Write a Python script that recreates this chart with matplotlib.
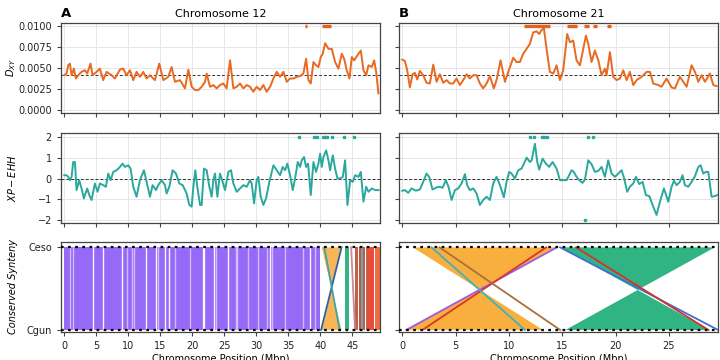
import matplotlib
matplotlib.use("Agg")
import matplotlib.pyplot as plt
from matplotlib.patches import Polygon

# ---------------- data ----------------
# Chromosome 12 (left) D_XY
dxy12_pos = [0.0, 0.36, 0.63, 0.89, 1.15, 1.51, 1.82, 2.19, 2.71, 3.23, 3.59, 4.11, 4.43, 5.05, 5.57, 6.09, 6.61,
             7.40, 7.92, 8.70, 9.22, 9.74, 10.26, 10.78, 11.30, 11.82, 12.34, 12.86, 13.39, 14.17, 14.84, 15.47,
             16.25, 16.77, 17.29, 18.07, 18.85, 19.38, 19.90, 20.42, 20.94, 21.46, 21.98, 22.24, 22.76, 23.28,
             23.80, 24.32, 24.84, 25.36, 25.89, 26.41, 26.93, 27.45, 27.97, 28.49, 29.01, 29.53, 30.05, 30.57,
             31.09, 31.61, 32.14, 32.66, 33.18, 33.70, 34.22, 34.74, 35.26, 35.78, 36.30, 36.82, 37.34, 37.76,
             38.13, 38.49, 38.91, 39.32, 39.69, 40.05, 40.36, 40.73, 41.25, 41.77, 42.29, 42.81, 43.33, 43.70,
             44.11, 44.53, 44.90, 45.26, 45.78, 46.30, 46.72, 47.14, 47.50, 48.02, 48.39, 48.70, 49.06]
dxy12_val = [0.00419, 0.00439, 0.00537, 0.00557, 0.00419, 0.00498, 0.00380, 0.00419, 0.00459, 0.00478, 0.00439,
             0.00557, 0.00419, 0.00459, 0.00498, 0.00361, 0.00459, 0.00419, 0.00380, 0.00486, 0.00498, 0.00419,
             0.00478, 0.00361, 0.00459, 0.00400, 0.00459, 0.00380, 0.00419, 0.00361, 0.00557, 0.00361, 0.00400,
             0.00517, 0.00341, 0.00361, 0.00263, 0.00486, 0.00282, 0.00243, 0.00243, 0.00282, 0.00341, 0.00439,
             0.00282, 0.00302, 0.00263, 0.00302, 0.00321, 0.00263, 0.00596, 0.00263, 0.00282, 0.00321, 0.00263,
             0.00302, 0.00282, 0.00223, 0.00282, 0.00243, 0.00302, 0.00223, 0.00282, 0.00380, 0.00459, 0.00400,
             0.00459, 0.00341, 0.00380, 0.00380, 0.00400, 0.00408, 0.00439, 0.00615, 0.00361, 0.00321, 0.00576,
             0.00537, 0.00517, 0.00635, 0.00674, 0.00800, 0.00733, 0.00733, 0.00576, 0.00498, 0.00674, 0.00615,
             0.00478, 0.00380, 0.00635, 0.00596, 0.00655, 0.00713, 0.00478, 0.00419, 0.00537, 0.00517, 0.00596,
             0.00459, 0.00204]

# Chromosome 21 (right) D_XY
dxy21_pos = [0.00, 0.25, 0.47, 0.72, 0.97, 1.19, 1.41, 1.66, 1.97, 2.28, 2.59, 2.91, 3.22, 3.53, 3.84, 4.16, 4.47,
             4.78, 5.09, 5.41, 5.72, 6.03, 6.34, 6.66, 6.97, 7.28, 7.59, 7.91, 8.22, 8.59, 8.84, 9.22, 9.63, 9.94,
             10.41, 10.72, 11.03, 11.34, 11.66, 11.97, 12.28, 12.59, 12.84, 13.06, 13.28, 13.53, 13.84, 14.16,
             14.47, 14.78, 15.09, 15.47, 15.72, 16.03, 16.34, 16.66, 16.91, 17.22, 17.44, 17.75, 18.06, 18.38,
             18.69, 19.00, 19.16, 19.47, 19.78, 20.09, 20.41, 20.72, 21.03, 21.34, 21.66, 21.97, 22.44, 22.91,
             23.22, 23.53, 24.00, 24.31, 24.78, 25.25, 25.56, 26.03, 26.34, 26.66, 27.13, 27.44, 27.75, 28.06,
             28.38, 28.84, 29.16, 29.47]
dxy21_val = [0.00604, 0.00588, 0.00478, 0.00274, 0.00431, 0.00447, 0.00368, 0.00470, 0.00419, 0.00329, 0.00321,
             0.00545, 0.00341, 0.00431, 0.00329, 0.00361, 0.00321, 0.00321, 0.00380, 0.00302, 0.00361, 0.00431,
             0.00380, 0.00419, 0.00419, 0.00321, 0.00263, 0.00321, 0.00408, 0.00263, 0.00361, 0.00596, 0.00341,
             0.00459, 0.00627, 0.00576, 0.00576, 0.00674, 0.00733, 0.00792, 0.00929, 0.00941, 0.00909, 0.00956,
             0.00980, 0.00733, 0.00459, 0.00439, 0.00537, 0.00361, 0.00478, 0.00909, 0.00811, 0.00831, 0.00596,
             0.00537, 0.00694, 0.00890, 0.00792, 0.00576, 0.00713, 0.00596, 0.00419, 0.00498, 0.00419, 0.00694,
             0.00400, 0.00361, 0.00380, 0.00478, 0.00361, 0.00459, 0.00302, 0.00361, 0.00400, 0.00459, 0.00459,
             0.00321, 0.00302, 0.00282, 0.00380, 0.00274, 0.00263, 0.00400, 0.00341, 0.00282, 0.00537, 0.00459,
             0.00341, 0.00419, 0.00341, 0.00439, 0.00302, 0.00290]

dxy_mean = 0.0042
dxy12_sig_start = [37.6, 40.3]
dxy12_sig_end = [37.95, 41.6]
dxy21_sig_start = [11.4, 15.4, 17.05, 17.85, 19.15]
dxy21_sig_end = [13.85, 16.35, 17.5, 18.3, 19.6]

# XP-EHH
xp12_pos = [0.0, 0.36, 0.63, 0.89, 1.15, 1.41, 1.67, 1.93, 2.34, 2.71, 3.07, 3.59, 3.91, 4.27, 4.79, 5.21, 5.57,
            6.09, 6.51, 6.88, 7.24, 7.66, 8.18, 8.70, 9.11, 9.48, 10.0, 10.36, 10.78, 11.30, 11.82, 12.45, 12.86,
            13.39, 13.80, 14.32, 14.69, 15.21, 15.73, 15.99, 16.41, 16.93, 17.45, 17.97, 18.49, 19.11, 19.53,
            19.90, 20.16, 20.47, 20.78, 21.20, 21.46, 21.82, 22.24, 22.66, 23.02, 23.28, 23.54, 23.91, 24.32,
            24.74, 25.10, 25.63, 26.04, 26.41, 26.93, 27.45, 27.97, 28.49, 29.01, 29.27, 29.64, 30.05, 30.31,
            30.68, 31.09, 31.51, 32.03, 32.66, 33.18, 33.70, 34.11, 34.48, 34.84, 35.26, 35.68, 36.04, 36.46,
            36.82, 37.08, 37.45, 37.76, 38.07, 38.49, 38.91, 39.32, 39.69, 39.95, 40.21, 40.47, 40.89, 41.25,
            41.51, 41.93, 42.29, 42.66, 43.07, 43.49, 43.85, 44.22, 44.64, 45.05, 45.42, 45.94, 46.30, 46.72,
            47.14, 47.50, 48.02, 48.54, 49.06]
xp12_val = [0.16, 0.16, 0.08, -0.08, 0.08, 0.80, 0.80, -0.56, -0.08, -0.48, -0.96, -0.48, -0.80, -1.04, -0.24,
            -0.64, -0.24, -0.32, -0.40, 0.24, -0.08, 0.32, 0.40, 0.56, 0.72, 0.56, 0.64, 0.48, -0.40, -0.88, -0.08,
            0.40, -0.16, -0.88, -0.32, -0.56, -0.32, -0.08, -0.32, -0.72, -0.40, 0.40, 0.24, -0.24, -0.32, -0.72,
            -1.28, -1.36, -0.40, 0.40, -0.40, -1.28, -1.28, 0.48, 0.40, -0.40, -0.88, -0.08, 0.24, -0.88, 0.24,
            -0.16, -0.56, 0.32, 0.40, -0.24, -0.64, -0.48, -0.32, -0.40, -0.08, -0.24, -1.20, -0.08, 0.08, -0.88,
            -1.28, -0.96, -0.16, 0.64, 0.40, 0.16, 0.56, 0.40, 0.72, 0.16, -0.56, 0.0, 0.80, 0.56, 0.88, 1.04,
            0.56, 0.72, -0.80, 0.80, 0.32, 0.72, 1.20, 0.56, 1.04, 1.36, 0.88, 0.40, 1.12, 0.48, 0.0, 0.0, 0.08,
            0.88, -1.28, -0.08, -0.16, 0.16, 0.08, 0.32, -1.12, -0.40, -0.64, -0.48, -0.56, -0.56]

xp21_pos = [0.0, 0.25, 0.56, 0.88, 1.28, 1.66, 1.97, 2.28, 2.53, 2.84, 3.22, 3.53, 3.78, 4.09, 4.34, 4.63, 4.94,
            5.25, 5.56, 5.88, 6.09, 6.34, 6.66, 6.97, 7.28, 7.59, 7.91, 8.22, 8.53, 8.84, 9.16, 9.53, 9.78, 10.03,
            10.25, 10.56, 10.88, 11.19, 11.41, 11.66, 11.97, 12.13, 12.44, 12.66, 12.84, 13.16, 13.47, 13.78,
            14.09, 14.47, 14.78, 15.09, 15.41, 15.88, 16.09, 16.34, 16.59, 16.91, 17.13, 17.44, 17.75, 18.06,
            18.38, 18.69, 19.00, 19.31, 19.63, 19.94, 20.25, 20.56, 20.78, 21.09, 21.34, 21.66, 21.91, 22.22,
            22.53, 22.84, 23.16, 23.47, 23.84, 24.16, 24.53, 24.94, 25.25, 25.47, 25.72, 26.03, 26.28, 26.50,
            26.81, 27.13, 27.44, 27.75, 27.97, 28.22, 28.47, 28.69, 29.00, 29.31, 29.53]
xp21_val = [-0.59, -0.56, -0.69, -0.48, -0.59, -0.53, -0.16, 0.24, 0.08, -0.53, -0.43, -0.40, -0.45, -0.08, -0.40,
            -1.04, -0.56, -0.48, -0.24, 0.21, -0.32, -0.56, -0.48, -0.72, -1.28, -1.04, -0.88, -1.04, -0.24, 0.08,
            -0.32, -0.91, -0.16, 0.32, 0.24, 0.0, 0.40, 0.48, 0.72, 1.01, 0.80, 0.88, 1.68, 0.80, 0.43, 0.96, 0.72,
            0.56, 0.80, 0.48, -0.08, -0.08, -0.08, 0.40, 0.32, 0.08, -0.08, -0.21, -0.05, 0.88, 0.69, 0.32, 0.37,
            0.56, 0.08, 0.88, 0.24, 0.08, 0.24, 0.40, 0.05, -0.64, -0.40, -0.24, 0.08, -0.27, -0.16, -0.80, -0.85,
            -1.28, -1.76, -1.12, -0.48, -1.12, -0.40, -0.11, -0.32, -0.16, 0.16, -0.32, -0.40, -0.16, 0.11, 0.56,
            0.64, 0.24, 0.32, 0.32, -0.88, -0.85, -0.80]

xp12_sig_pos = [36.72, 39.01, 39.53, 40.36, 40.68, 40.99, 41.82, 43.75, 45.31]
xp12_sig_val = [2, 2, 2, 2, 2, 2, 2, 2, 2]
xp21_sig_pos = [11.97, 12.38, 13.06, 13.28, 13.59, 17.41, 17.84, 17.13]
xp21_sig_val = [2, 2, 2, 2, 2, 2, 2, -2]

# Conserved synteny: blocks (Cgun bottom start/end, Ceso top start/end, inverted?, colour)
syn12_bot_start = [0.0, 40.1, 43.8, 45.4, 45.95, 46.6, 47.1, 47.5, 48.5]
syn12_bot_end = [40.0, 43.3, 44.5, 45.9, 46.4, 47.0, 47.4, 48.4, 49.3]
syn12_top_start = [0.0, 40.2, 43.8, 45.4, 45.95, 46.6, 47.1, 47.5, 48.5]
syn12_top_end = [40.0, 43.4, 44.5, 45.9, 46.4, 47.0, 47.4, 48.4, 49.3]
syn12_inv = [False, True, False, False, False, False, False, False, False]
syn12_color = ['#8d5cf6', '#f7b04a', '#22ad7a', '#b8553e', '#e2382a', '#e53a2a', '#b8553e', '#e63e2a', '#f0602e']
# single gene-pair links
syn12_link_bot = [40.1, 43.0, 45.4, 46.5]
syn12_link_top = [43.3, 40.6, 44.8, 46.5]
syn12_link_color = ['#2b66a8', '#3fa3a8', '#c48a98', '#27b5b5']
# positions without conserved genes inside the collinear block (white) and sparse ones (light)
syn12_gap_pos = [4.5, 6.1, 9.0, 12.8, 14.3, 15.8, 16.3, 21.6, 21.9, 23.4, 25.6, 32.2, 38.4]
syn12_light_pos = [0.9, 1.4, 9.75, 10.6, 10.9, 14.6, 17.3, 19.6, 23.7, 26.8, 27.0, 28.7, 30.3, 31.7, 32.4,
                   34.5, 37.3, 39.2]

syn21_bot_start = [0.2, 15.3]
syn21_bot_end = [13.2, 28.8]
syn21_top_start = [1.0, 14.9]
syn21_top_end = [14.5, 29.3]
syn21_inv = [True, True]
syn21_color = ['#f9a82c', '#1fae7a']
syn21_link_bot = [0.4, 1.9, 11.5, 14.8, 29.6, 28.7]
syn21_link_top = [14.5, 13.5, 2.75, 3.5, 14.8, 16.3]
syn21_link_color = ['#9a5cf0', '#d8382a', '#3ab2c4', '#a8703c', '#3f6fcf', '#d8302a']
syn21_gap_pos = []
syn21_light_pos = []

xticks12 = [0, 5, 10, 15, 20, 25, 30, 35, 40, 45]
xticks21 = [0, 5, 10, 15, 20, 25]
dxy_ticks = [0.0, 0.0025, 0.005, 0.0075, 0.01]
dxy_ticklabels = ['0.0000', '0.0025', '0.0050', '0.0075', '0.0100']
xp_ticks = [-2, -1, 0, 1, 2]
syn_ticks = [0, 1]
syn_ticklabels = ['Cgun', 'Ceso']

# ---------------- style ----------------
ORANGE = '#e8691f'
TEAL = '#2ba89d'
SPINE = '#444444'
plt.rcParams['font.family'] = ['DejaVu Sans']
plt.rcParams['font.size'] = 7

fig = plt.figure(figsize=(7.2, 3.6), dpi=100)
xl, xr, w = 61 / 720, 399 / 720, 319 / 720
rows_y = [1 - 113 / 360, 1 - 223 / 360, 1 - 332 / 360]
h = 90 / 360

axes = {}
for r in range(3):
    for c in range(2):
        ax = fig.add_axes([xl if c == 0 else xr, rows_y[r], w, h])
        axes[(r, c)] = ax
        for s in ax.spines.values():
            s.set_color(SPINE)
            s.set_linewidth(0.9)
        ax.tick_params(colors='#222222', labelsize=7, length=3, width=0.8, color=SPINE)
        ax.set_xlim((-0.5, 49.3) if c == 0 else (-0.3, 29.6))
        ax.set_xticks(xticks12 if c == 0 else xticks21)

# Row 1: D_XY
for c, (pos, val, ss, se) in enumerate([(dxy12_pos, dxy12_val, dxy12_sig_start, dxy12_sig_end),
                                        (dxy21_pos, dxy21_val, dxy21_sig_start, dxy21_sig_end)]):
    ax = axes[(0, c)]
    ax.grid(True, color='#e6e6e6', lw=0.7)
    ax.set_axisbelow(True)
    ax.plot(pos, val, color=ORANGE, lw=1.4, zorder=3)
    ax.axhline(dxy_mean, color='#333333', lw=0.7, ls=(0, (3, 2)), zorder=2)
    ax.hlines([0.0100] * len(ss), ss, se, color='#e8601c', lw=2.4, capstyle='butt', zorder=4)
    ax.set_ylim(-0.0003, 0.0104)
    ax.set_yticks(dxy_ticks)
    ax.set_yticklabels(dxy_ticklabels if c == 0 else [])
    ax.set_xticklabels([])

# Row 2: XP-EHH
for c, (pos, val, sp, sv) in enumerate([(xp12_pos, xp12_val, xp12_sig_pos, xp12_sig_val),
                                        (xp21_pos, xp21_val, xp21_sig_pos, xp21_sig_val)]):
    ax = axes[(1, c)]
    ax.grid(True, color='#e6e6e6', lw=0.7)
    ax.set_axisbelow(True)
    ax.plot(pos, val, color=TEAL, lw=1.4, zorder=3)
    ax.axhline(0, color='#333333', lw=0.7, ls=(0, (3, 2)), zorder=2)
    ax.plot(sp, sv, ls='none', marker='s', ms=1.9, color=TEAL, zorder=4)
    ax.set_ylim(-2.15, 2.2)
    ax.set_yticks(xp_ticks)
    ax.set_yticklabels([str(t) if t >= 0 else '\u2212' + str(-t) for t in xp_ticks] if c == 0 else [])
    ax.set_xticklabels([])

# Row 3: synteny
syn_sets = [(syn12_bot_start, syn12_bot_end, syn12_top_start, syn12_top_end, syn12_inv, syn12_color,
             syn12_link_bot, syn12_link_top, syn12_link_color, syn12_gap_pos, syn12_light_pos),
            (syn21_bot_start, syn21_bot_end, syn21_top_start, syn21_top_end, syn21_inv, syn21_color,
             syn21_link_bot, syn21_link_top, syn21_link_color, syn21_gap_pos, syn21_light_pos)]
for c, (bs, be, ts, te, inv, col, lb, lt, lc, gp, lp) in enumerate(syn_sets):
    ax = axes[(2, c)]
    for i in range(len(bs)):
        if inv[i]:
            verts = [(bs[i], 0), (be[i], 0), (ts[i], 1), (te[i], 1)]
        else:
            verts = [(bs[i], 0), (be[i], 0), (te[i], 1), (ts[i], 1)]
        ax.add_patch(Polygon(verts, closed=True, facecolor=col[i], edgecolor='none', alpha=0.92, zorder=2))
    for g in gp:
        ax.plot([g, g], [0, 1], color='white', lw=1.0, alpha=0.95, zorder=2.5)
    for g in lp:
        ax.plot([g, g], [0, 1], color='white', lw=1.0, alpha=0.55, zorder=2.5)
    for b, t, cc in zip(lb, lt, lc):
        ax.plot([b, t], [0, 1], color=cc, lw=1.3, zorder=3)
    ax.axhline(1, color='black', lw=1.6, ls=(0, (1.2, 2.0)), zorder=4)
    ax.axhline(0, color='black', lw=1.6, ls=(0, (1.2, 2.0)), zorder=4)
    ax.set_ylim(-0.025, 1.065)
    ax.set_yticks(syn_ticks)
    ax.set_yticklabels(syn_ticklabels if c == 0 else [])
    ax.set_xticklabels([str(t) for t in (xticks12 if c == 0 else xticks21)])
    ax.set_xlabel('Chromosome Position (Mbp)', fontsize=7, labelpad=2)

# Labels
axes[(0, 0)].set_ylabel(r'$D_{XY}$', fontsize=7)
axes[(1, 0)].set_ylabel(r'$XP-EHH$', fontsize=7)
axes[(2, 0)].set_ylabel('Conserved Synteny', fontsize=7, style='italic')
for r in range(3):
    axes[(r, 0)].yaxis.set_label_coords(-0.135, 0.5)

axes[(0, 0)].set_title('Chromosome 12', fontsize=8, pad=4)
axes[(0, 1)].set_title('Chromosome 21', fontsize=8, pad=4)
axes[(0, 0)].text(0.0, 1.03, 'A', transform=axes[(0, 0)].transAxes, fontsize=9.5, fontweight='bold', va='bottom')
axes[(0, 1)].text(0.0, 1.03, 'B', transform=axes[(0, 1)].transAxes, fontsize=9.5, fontweight='bold', va='bottom')

fig.savefig('out.png', dpi=100)
